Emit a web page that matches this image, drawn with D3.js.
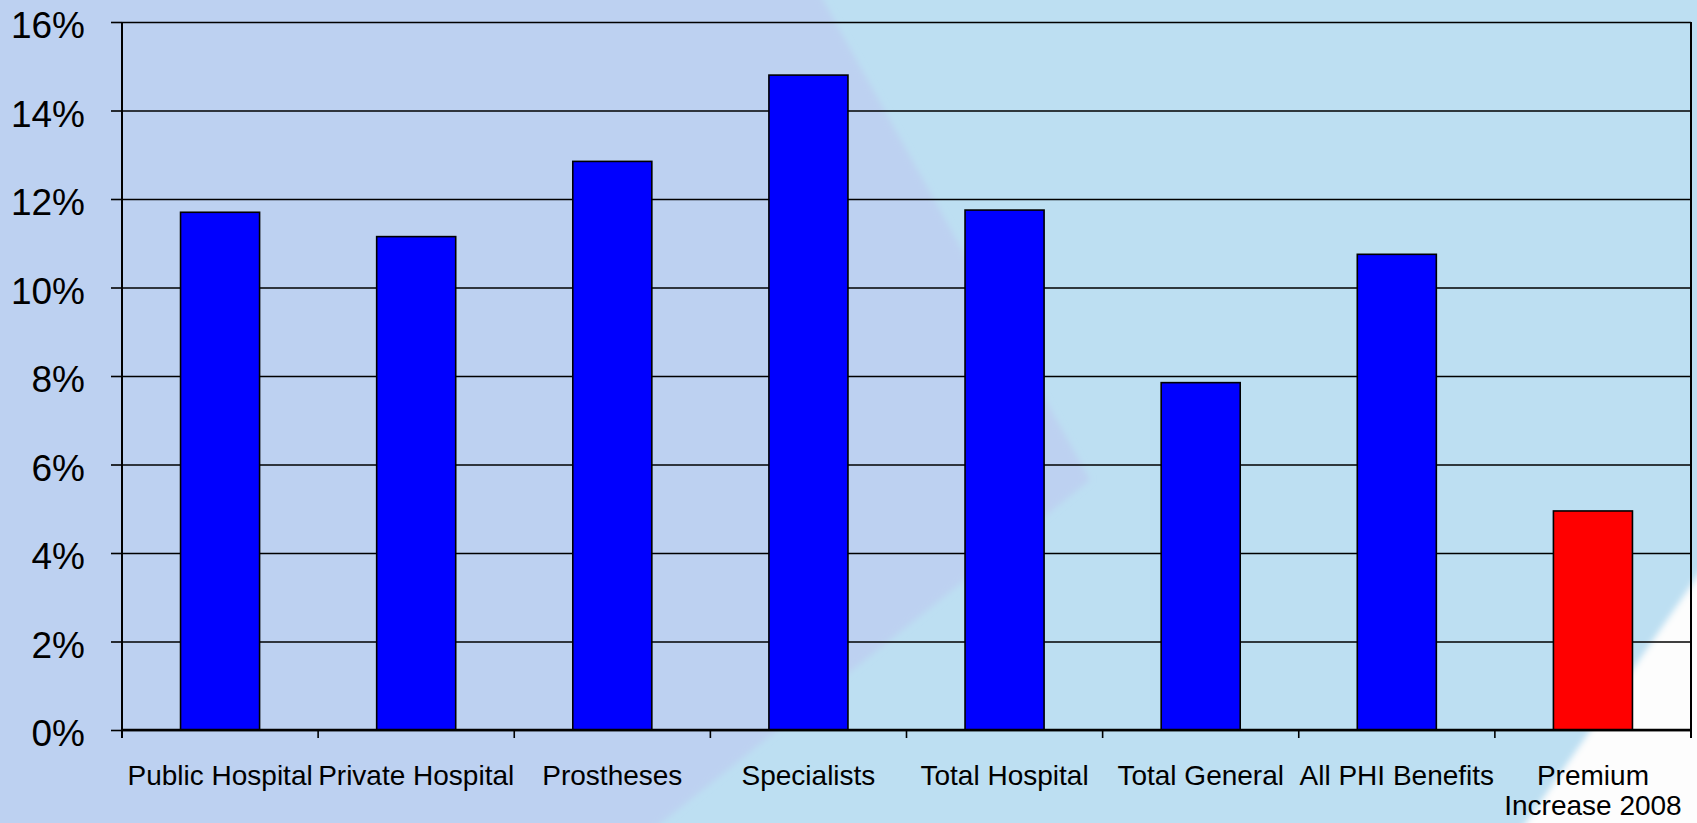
<!DOCTYPE html>
<html lang="en">
  <head>
    <meta charset="utf-8">
    <title>PHI benefit growth vs premium increase</title>
    <script type="text/javascript" src="https://d3js.org/d3.v7.min.js"></script>
    <style type="text/css">
    body {
      margin: 0;
      background: #bddff2;
    }
    .axisl text {
      font-family: "Liberation Sans", Arial, sans-serif;
      font-size: 37px;
      fill: #000;
    }
    .axisl path { display: none; }
    .axisl line { stroke: #000; stroke-width: 1.6px; }
    .grid path { display: none; }
    .grid line { stroke: #000; stroke-width: 1.6px; }
    .axisb path, .axisb line { display: none; }
    .axisb text {
      font-family: "Liberation Sans", Arial, sans-serif;
      font-size: 28px;
      fill: #000;
    }
    </style>
  </head>
  <body>
    <svg width="1697" height="823" id="svg1"></svg>

    <script type="text/javascript">

    const width = 1697;
    const height = 823;
    const plotLeft = 122, plotRight = 1691, plotTop = 22, plotBottom = 730;

    // data
    const categories = ["Public Hospital", "Private Hospital", "Prostheses", "Specialists",
                        "Total Hospital", "Total General", "All PHI Benefits", "Premium Increase 2008"];
    const growth = [11.7, 11.15, 12.85, 14.8, 11.75, 7.85, 10.75, 4.95];
    const yTicks = [0, 2, 4, 6, 8, 10, 12, 14, 16];
    const labelLines = [["Public Hospital"], ["Private Hospital"], ["Prostheses"], ["Specialists"],
                        ["Total Hospital"], ["Total General"], ["All PHI Benefits"], ["Premium", "Increase 2008"]];
    const highlight = "Premium Increase 2008";

    const dataset = categories.map((c, i) => ({cat: c, value: growth[i], lines: labelLines[i]}));

    const svg = d3.select("#svg1");

    // background shapes
    const defs = svg.append("defs");
    defs.append("filter").attr("id", "soft")
        .append("feGaussianBlur").attr("stdDeviation", 3);

    svg.append("rect")
        .attr("width", width).attr("height", height)
        .attr("fill", "#bddff2");

    svg.append("polygon")
        .attr("points", "-20,-20 812,-20 1090,480 636,843 -20,843")
        .attr("fill", "#bdd1f1")
        .attr("filter", "url(#soft)");

    svg.append("polygon")
        .attr("points", "1717,548 1717,843 1512,843")
        .attr("fill", "#fdfdfd")
        .attr("filter", "url(#soft)");

    const xScale = d3.scaleBand()
        .domain(categories)
        .range([plotLeft, plotRight]);

    const yScale = d3.scaleLinear()
        .domain([0, 16])
        .range([plotBottom, plotTop]);

    // gridlines
    svg.append("g")
        .attr("class", "grid")
        .attr("transform", "translate(" + plotLeft + ",0)")
        .call(d3.axisLeft(yScale).tickValues(yTicks).tickSize(-(plotRight - plotLeft)).tickFormat(""));

    // y axis labels + outer ticks
    svg.append("g")
        .attr("class", "axisl")
        .attr("transform", "translate(" + plotLeft + ",0)")
        .call(d3.axisLeft(yScale).tickValues(yTicks).tickSize(11).tickPadding(26).tickFormat(d => d + "%"))
        .selectAll("text")
          .attr("dy", "15.5px");

    // bars
    const barW = xScale.bandwidth() * 0.403;

    svg.selectAll("rect.bar")
        .data(dataset)
        .enter()
        .append("rect")
        .attr("class", "bar")
        .attr("x", d => xScale(d.cat) + (xScale.bandwidth() - barW) / 2)
        .attr("y", d => yScale(d.value))
        .attr("width", barW)
        .attr("height", d => yScale(0) - yScale(d.value))
        .attr("fill", d => d.cat === highlight ? "#ff0000" : "#0000ff")
        .attr("stroke", "#000")
        .attr("stroke-width", 1.6);

    // axis frame: y axis, right border, x axis line
    svg.append("line")
        .attr("x1", plotLeft).attr("x2", plotLeft)
        .attr("y1", yScale(16)).attr("y2", yScale(0) + 8)
        .attr("stroke", "#000").attr("stroke-width", 2);

    svg.append("line")
        .attr("x1", plotRight).attr("x2", plotRight)
        .attr("y1", yScale(16)).attr("y2", yScale(0) + 8)
        .attr("stroke", "#000").attr("stroke-width", 2);

    svg.append("line")
        .attr("x1", plotLeft).attr("x2", plotRight)
        .attr("y1", yScale(0)).attr("y2", yScale(0))
        .attr("stroke", "#000").attr("stroke-width", 2.4);

    // category ticks between bands
    svg.selectAll("line.xtick")
        .data(categories.slice(1))
        .enter()
        .append("line")
        .attr("class", "xtick")
        .attr("x1", d => xScale(d)).attr("x2", d => xScale(d))
        .attr("y1", yScale(0)).attr("y2", yScale(0) + 8)
        .attr("stroke", "#000").attr("stroke-width", 1.6);

    // category labels
    const xAxis = svg.append("g")
        .attr("class", "axisb")
        .attr("transform", "translate(0," + plotBottom + ")")
        .call(d3.axisBottom(xScale).tickSize(0).tickFormat(""));

    xAxis.selectAll(".tick")
        .data(dataset)
        .append("text")
        .attr("text-anchor", "middle")
        .attr("y", 55)
        .selectAll("tspan")
        .data(d => d.lines)
        .enter()
        .append("tspan")
        .attr("x", 0)
        .attr("dy", (d, i) => i === 0 ? 0 : 30)
        .text(d => d);

    </script>
  </body>
</html>
